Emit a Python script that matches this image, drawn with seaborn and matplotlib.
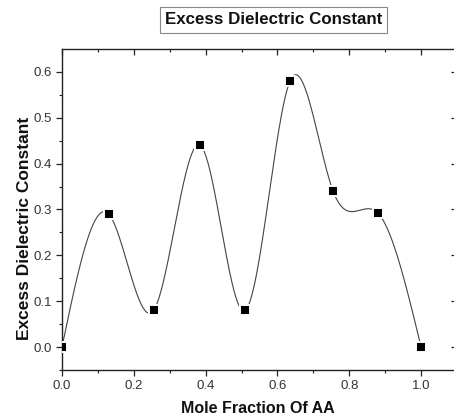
import numpy as np
import pandas as pd
import matplotlib
matplotlib.use("Agg")
import matplotlib.pyplot as plt
import seaborn as sns

mole_fraction = [0.0, 0.13, 0.255, 0.385, 0.51, 0.635, 0.755, 0.88, 1.0]
excess_dielectric = [0.0, 0.29, 0.08, 0.44, 0.08, 0.58, 0.34, 0.292, 0.0]
x_ticks = [0.0, 0.2, 0.4, 0.6, 0.8, 1.0]
y_ticks = [0.0, 0.1, 0.2, 0.3, 0.4, 0.5, 0.6]
title_text = "Excess Dielectric Constant"
x_label = "Mole Fraction Of AA"
y_label = "Excess Dielectric Constant"


def natural_spline(x, y, n=400):
    x = np.asarray(x, float)
    y = np.asarray(y, float)
    m = len(x)
    h = np.diff(x)
    A = np.zeros((m, m))
    b = np.zeros(m)
    A[0, 0] = 1
    A[-1, -1] = 1
    for i in range(1, m - 1):
        A[i, i - 1] = h[i - 1]
        A[i, i] = 2 * (h[i - 1] + h[i])
        A[i, i + 1] = h[i]
        b[i] = 6 * ((y[i + 1] - y[i]) / h[i] - (y[i] - y[i - 1]) / h[i - 1])
    M = np.linalg.solve(A, b)
    xs = np.linspace(x[0], x[-1], n)
    idx = np.clip(np.searchsorted(x, xs) - 1, 0, m - 2)
    x0, x1 = x[idx], x[idx + 1]
    hh = x1 - x0
    ys = (M[idx] * (x1 - xs) ** 3 / (6 * hh) + M[idx + 1] * (xs - x0) ** 3 / (6 * hh)
          + (y[idx] / hh - M[idx] * hh / 6) * (x1 - xs)
          + (y[idx + 1] / hh - M[idx + 1] * hh / 6) * (xs - x0))
    return xs, ys


sns.set_style("ticks")
plt.rcParams["font.family"] = ["Liberation Sans", "DejaVu Sans"]

fig = plt.figure(figsize=(4.54, 4.19), dpi=100)
ax = fig.add_axes([62 / 454, 1 - 370 / 419, (457 - 62) / 454, (370 - 49) / 419])

pts = pd.DataFrame({"x": mole_fraction, "y": excess_dielectric})
sx, sy = natural_spline(mole_fraction, excess_dielectric)
curve = pd.DataFrame({"x": sx, "y": sy})

sns.lineplot(data=curve, x="x", y="y", ax=ax, color="#444444", linewidth=0.8, sort=False)
sns.scatterplot(data=pts, x="x", y="y", ax=ax, marker="s", color="black", s=42,
                edgecolor="white", linewidth=1.4, zorder=3)

ax.set_xlim(0, 1.1)
ax.set_ylim(-0.05, 0.65)
ax.set_xticks(x_ticks)
ax.set_xticklabels([f"{v:.1f}" for v in x_ticks])
ax.set_yticks(y_ticks)
ax.set_yticklabels([f"{v:.1f}" for v in y_ticks])
ax.set_xticks(np.arange(0.1, 1.1, 0.2), minor=True)
ax.set_yticks(np.arange(-0.05, 0.65, 0.1), minor=True)

for s in ax.spines.values():
    s.set_visible(True)
    s.set_color("#222222")
    s.set_linewidth(1.0)

ax.tick_params(axis="both", which="major", direction="out", length=4.5, width=0.9,
               labelsize=9.5, colors="#222222", labelcolor="#333333", pad=3)
ax.tick_params(axis="both", which="minor", direction="out", length=2.5, width=0.8, colors="#222222")
ax.tick_params(top=True, right=True, which="both")
for t in ax.xaxis.get_major_ticks() + ax.xaxis.get_minor_ticks():
    t.tick2line.set_marker(3)  # pointing down (inward)
for t in ax.yaxis.get_major_ticks() + ax.yaxis.get_minor_ticks():
    t.tick2line.set_marker(0)  # pointing left (inward)

ax.set_xlabel(x_label, fontsize=11.5, fontweight="bold", color="#111111")
ax.set_ylabel(y_label, fontsize=12.5, fontweight="bold", color="#111111")
ax.xaxis.set_label_coords((258 - 62) / (457 - 62), -(401 - 370) / 321)
ax.yaxis.set_label_coords(-(62 - 32) / 395, (370 - 228) / 321)

fig.text(273.5 / 454, 1 - 20 / 419, title_text, ha="center", va="center", fontsize=12.2,
         fontweight="bold", color="#111111",
         bbox=dict(boxstyle="square,pad=0.3", facecolor="white", edgecolor="#888888", linewidth=0.8))

fig.savefig("out.png", dpi=100)
